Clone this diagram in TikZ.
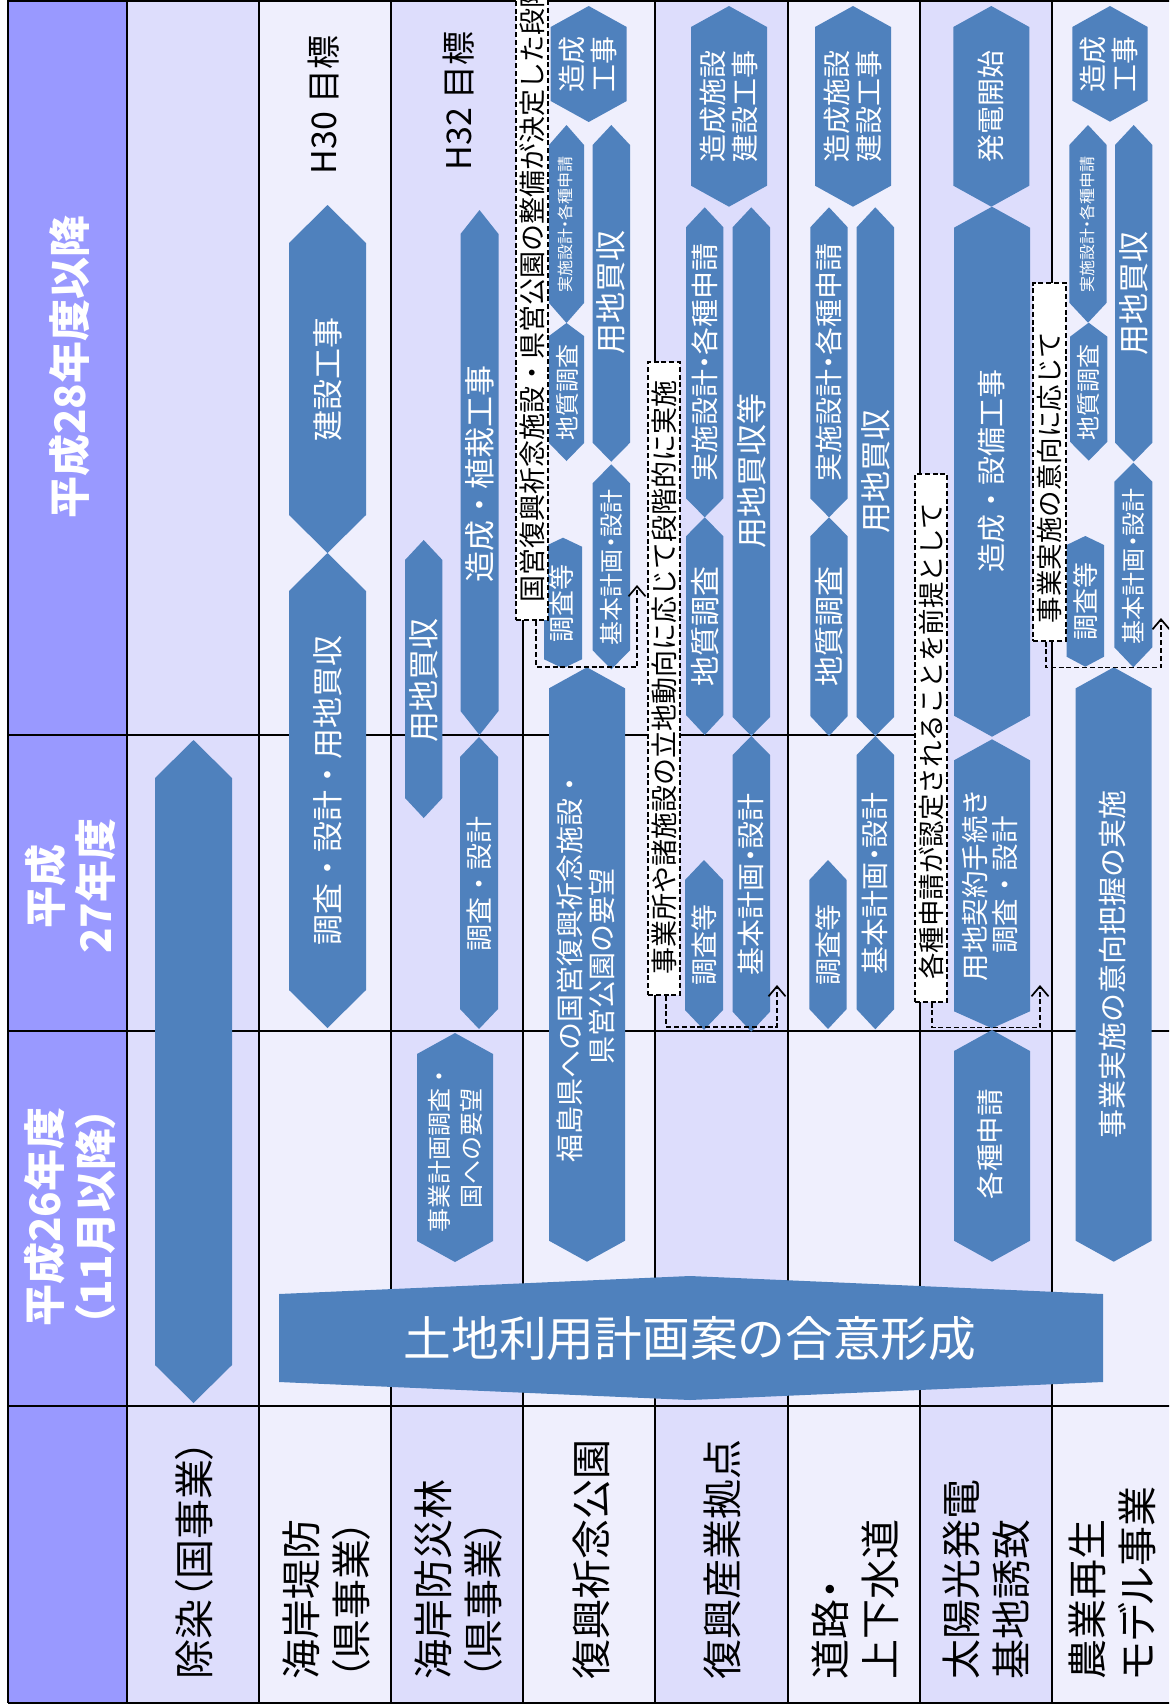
\documentclass[tikz,border=0pt]{standalone}
\usepackage{fontspec}
\setmainfont{Noto Sans CJK JP}
\newfontfamily\jpp[RawFeature=+palt]{Noto Sans CJK JP}
\usetikzlibrary{arrows.meta}
\definecolor{hdr}{RGB}{153,153,255}
\definecolor{cdk}{RGB}{221,221,252}
\definecolor{clt}{RGB}{239,239,253}
\definecolor{shp}{RGB}{79,129,189}
\newcommand\fsz[2]{\fontsize{#1pt}{#2pt}\selectfont}
\newcommand\hexshape[6]{\fill[shapefill] (#1,#3) -- ({#1+#2},{#3+#5}) -- ({#1+#2},{#4-#6}) -- (#1,#4) -- ({#1-#2},{#4-#6}) -- ({#1-#2},{#3+#5}) -- cycle;}
\tikzset{
  shapefill/.style={fill=shp},
  gridline/.style={draw=black, line width=1.2pt},
  wtxt/.style={text=white, rotate=90, inner sep=0pt, align=center},
  btxt/.style={text=black, rotate=90, inner sep=0pt, align=center},
  dbox/.style={draw=black, fill=white, line width=0.85pt, dash pattern=on 2.5pt off 1.4pt, inner sep=0pt},
  dconn/.style={draw=black, line width=0.85pt, dash pattern=on 2.5pt off 1.4pt, -{Straight Barb[length=5pt,width=8.5pt]}},
  lbl/.style={text=black, rotate=90, inner sep=0pt, align=left, anchor=west, font=\jpp\fsz{20}{25}},
  hd/.style={text=white, rotate=90, inner sep=0pt, align=center, font=\jpp\bfseries\fsz{21}{25}},
}
\begin{document}
\begin{tikzpicture}[x=0.5pt,y=-0.5pt]
\useasboundingbox (0,0) rectangle (1169,1708);
\clip (0,0) rectangle (1169,1708);
% backgrounds
\fill[hdr] (8,0) rectangle (127,1703);
\fill[cdk] (127,0) rectangle (259,1703);
\fill[clt] (259,0) rectangle (391,1703);
\fill[cdk] (391,0) rectangle (523,1703);
\fill[clt] (523,0) rectangle (655,1703);
\fill[cdk] (655,0) rectangle (788,1703);
\fill[clt] (788,0) rectangle (920,1703);
\fill[cdk] (920,0) rectangle (1052,1703);
\fill[clt] (1052,0) rectangle (1180,1703);
% grid
\foreach \gx in {8,127,259,391,523,655,788,920,1052} \draw[gridline] (\gx,0) -- (\gx,1703);
\draw[gridline] (8,0.5) -- (1180,0.5);
\draw[gridline] (8,1703) -- (1180,1703);
\draw[gridline] (8,735) -- (920,735);
\draw[gridline] (8,1031) -- (1180,1031);
\draw[gridline] (8,1406) -- (1180,1406);

% headers
\node[hd] (h28) at (69,367) {平成28年度以降};
\node[hd] (h27) at (70,886) {平成\\27年度};
\node[hd, font=\jpp\bfseries\fsz{21}{25.5}] (h26) at (69.5,1217) {平成26年度\\（11月以降）};

% row labels
\node[lbl] (l1) at (194,1680) {除染（国事業）};
\node[lbl] (l2) at (327,1680) {海岸堤防\\（県事業）};
\node[lbl] (l3) at (459,1680) {海岸防災林\\（県事業）};
\node[lbl] (l4) at (591,1680) {復興祈念公園};
\node[lbl] (l5) at (722.5,1680) {復興産業拠点};
\node[lbl] (l6) at (855,1680) {道路・\\上下水道};
\node[lbl] (l7) at (986.5,1680) {太陽光発電\\基地誘致};
\node[lbl] (l8) at (1112,1680) {農業再生\\モデル事業};

% targets
\node[btxt, font=\fsz{17}{17}] (g30) at (324,105) {H30 目標};
\node[btxt, font=\fsz{17}{17}] (g32) at (458.5,101) {H32 目標};

% col1
\hexshape{193.5}{38.5}{740}{1403}{38}{38}
% col2
\hexshape{327.5}{38.5}{205}{553}{38}{38}
\hexshape{327.5}{38.5}{553}{1028}{38}{38}
\node[wtxt, font=\fsz{15.5}{16}] (t2a) at (327.5,379) {建設工事};
\node[wtxt, font=\fsz{15.5}{16}] (t2b) at (327.5,790.5) {調査・設計・用地買収};
% col3
\hexshape{479.5}{19}{210}{735}{24}{24}
\hexshape{479}{19}{737}{1029}{20}{20}
\hexshape{423.7}{18.7}{540}{818}{20}{20}
\hexshape{455}{38}{1033}{1262}{21}{21}
\node[wtxt, font=\fsz{15.5}{16}] (t3a) at (479.5,474) {造成・植栽工事};
\node[wtxt, font=\fsz{13.5}{14}] (t3b) at (479,884) {調査・設計};
\node[wtxt, font=\fsz{15.5}{16}] (t3c) at (423.7,680) {用地買収};
\node[wtxt, font=\fsz{12}{16}] (t3d) at (455.5,1148) {事業計画調査・\\国への要望};
% col4
\hexshape{588.7}{38}{6}{122}{21}{21}
\hexshape{566.5}{17.5}{125}{323}{20}{20}
\hexshape{566.5}{17.5}{323}{461}{13}{18}
\hexshape{611.3}{18.7}{125}{461.7}{20}{19}
\hexshape{563}{19}{537.7}{668.3}{9}{9}
\hexshape{611.3}{18.7}{464.3}{669.3}{19}{19}
\hexshape{587}{38}{667.3}{1261.7}{21}{21}
\node[wtxt, font=\fsz{14}{16}] (t4a) at (587.5,64) {造成\\工事};
\node[wtxt, font=\fsz{8}{8}] (t4b) at (565.5,224.5) {実施設計{\jpp ・}各種申請};
\node[wtxt, font=\fsz{12}{12}] (t4c) at (567,392) {地質調査};
\node[wtxt, font=\fsz{15.5}{16}] (t4d) at (610.5,292) {用地買収};
\node[wtxt, font=\fsz{13}{13}] (t4e) at (562,603.5) {調査等};
\node[wtxt, font=\fsz{12}{12}] (t4f) at (611.5,567) {基本計画{\jpp ・}設計};
\node[wtxt, font=\fsz{14}{16.25}] (t4g) at (586,966.5) {福島県への国営復興祈念施設・\\県営公園の要望};
% col5
\hexshape{729}{38}{6}{206.7}{21}{21}
\hexshape{704.7}{18.7}{207.3}{517.3}{20}{19}
\hexshape{704.7}{18.7}{517.3}{735}{19}{20}
\hexshape{751.3}{18.7}{207.3}{736}{20}{19}
\hexshape{751.3}{18.7}{736}{1031.7}{19}{20}
\hexshape{704}{19}{860}{1030}{20}{20}
\node[wtxt, font=\fsz{14}{16}] (t5a) at (728.5,106.5) {造成施設\\建設工事};
\node[wtxt, font=\fsz{14}{14}] (t5b) at (705,362.5) {実施設計{\jpp ・}各種申請};
\node[wtxt, font=\fsz{15}{15}] (t5c) at (705,626) {地質調査};
\node[wtxt, font=\fsz{15.5}{16}] (t5d) at (751.3,471) {用地買収等};
\node[wtxt, font=\fsz{14}{14}] (t5e) at (751.3,884) {基本計画{\jpp ・}設計};
\node[wtxt, font=\fsz{13.5}{14}] (t5f) at (704,945) {調査等};
% col6
\hexshape{853}{38}{6}{206.7}{21}{21}
\hexshape{829}{18.7}{207.3}{517.3}{20}{19}
\hexshape{829}{18.7}{517.3}{736}{19}{20}
\hexshape{875.3}{18.7}{207.3}{736}{20}{19}
\hexshape{875.3}{18.7}{736}{1029.3}{19}{20}
\hexshape{828}{18.7}{860}{1029}{20}{20}
\node[wtxt, font=\fsz{14}{16}] (t6a) at (852.5,106.5) {造成施設\\建設工事};
\node[wtxt, font=\fsz{14}{14}] (t6b) at (829,362.5) {実施設計{\jpp ・}各種申請};
\node[wtxt, font=\fsz{15}{15}] (t6c) at (829,626) {地質調査};
\node[wtxt, font=\fsz{15.5}{16}] (t6d) at (875.3,471) {用地買収};
\node[wtxt, font=\fsz{14}{14}] (t6e) at (875.3,883) {基本計画{\jpp ・}設計};
\node[wtxt, font=\fsz{13.5}{14}] (t6f) at (828,945) {調査等};
% col7
\hexshape{991.3}{38}{6}{206.7}{21}{21}
\hexshape{992}{38}{206.7}{736.7}{21}{21}
\hexshape{992}{38}{739.3}{1028.3}{21}{17}
\hexshape{992}{38}{1030}{1261.7}{21}{21}
\node[wtxt, font=\fsz{14}{14}] (t7a) at (990.5,106) {発電開始};
\node[wtxt, font=\fsz{14.5}{15}] (t7b) at (992,471) {造成・設備工事};
\node[wtxt, font=\fsz{13.75}{15.25}] (t7c) at (990,885) {用地契約手続き\\調査・設計};
\node[wtxt, font=\fsz{13.75}{14}] (t7d) at (990,1144) {各種申請};
% col8
\hexshape{1110}{37.7}{6}{121.7}{21}{21}
\hexshape{1088}{18.7}{125}{322.7}{20}{20}
\hexshape{1088.7}{18.7}{322.7}{460.7}{14}{19}
\hexshape{1133.7}{18.7}{125}{461.7}{20}{19}
\hexshape{1085.3}{18.7}{536}{666.7}{9}{10}
\hexshape{1133.3}{19}{462.7}{667.3}{19}{20}
\hexshape{1113.7}{38}{667.3}{1261.7}{21}{21}
\node[wtxt, font=\fsz{14}{16}] (t8a) at (1108.5,64) {造成\\工事};
\node[wtxt, font=\fsz{8}{8}] (t8b) at (1087,224.5) {実施設計{\jpp ・}各種申請};
\node[wtxt, font=\fsz{12}{12}] (t8c) at (1088.5,392) {地質調査};
\node[wtxt, font=\fsz{15.5}{16}] (t8d) at (1133.7,293) {用地買収};
\node[wtxt, font=\fsz{13}{13}] (t8e) at (1085.3,601.5) {調査等};
\node[wtxt, font=\fsz{12}{12}] (t8f) at (1133.3,566) {基本計画{\jpp ・}設計};
\node[wtxt, font=\fsz{14.5}{15}] (t8g) at (1112.5,964) {事業実施の意向把握の実施};

% land use consensus band
\fill[shapefill] (279,1294) -- (690,1276) -- (1103,1294) -- (1103,1382) -- (690,1400) -- (279,1382) -- cycle;
\node[text=white, inner sep=0pt, font=\fsz{23.85}{24}] (tland) at (690,1339) {土地利用計画案の合意形成};

% dashed note boxes
\node[dbox, minimum width=16.15pt, minimum height=320pt] (b4) at (532.15,300) {};
\node[dbox, minimum width=16pt, minimum height=316.5pt] (b5) at (664,678.5) {};
\node[dbox, minimum width=16.15pt, minimum height=263.7pt] (b6) at (931.15,738) {};
\node[dbox, minimum width=16.35pt, minimum height=179pt] (b8) at (1049.65,461.7) {};
\node[btxt, font=\fsz{13.5}{14}, anchor=west] (tb4) at (532.5,603) {国営復興祈念施設・県営公園の整備が決定した段階};
\node[btxt, font=\fsz{13.5}{14}] (tb5) at (664,677) {事業所や諸施設の立地動向に応じて段階的に実施};
\node[btxt, font=\fsz{13.25}{14}] (tb6) at (931,741.5) {各種申請が認定されることを前提として};
\node[btxt, font=\fsz{13.25}{14}] (tb8) at (1049.7,477.5) {事業実施の意向に応じて};

% dashed connectors
\coordinate (a4) at (637,585);
\coordinate (a5) at (777,985);
\coordinate (a6) at (1040,985);
\coordinate (a8) at (1161,618);
\draw[dconn] ([xshift=2pt]b4.south) -- ++(0,46) -| (a4);
\draw[dconn] ([xshift=1pt]b5.south) -- ++(0,31) -| (a5);
\draw[dconn] ([xshift=0.5pt]b6.south) -- ++(0,25) -| (a6);
\draw[dconn] ([xshift=-2pt]b8.south) -- ++(0,26) -| (a8);
\end{tikzpicture}
\end{document}
